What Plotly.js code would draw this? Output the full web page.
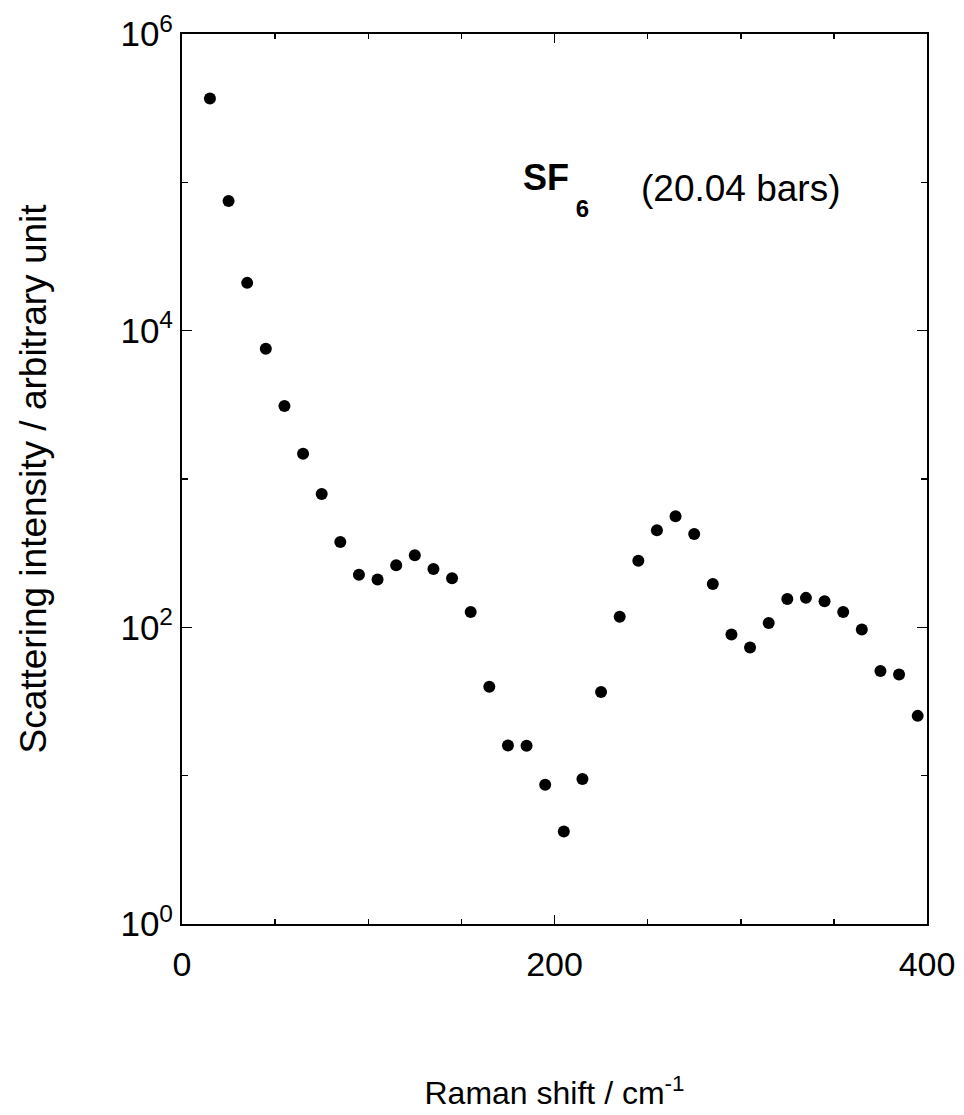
<!DOCTYPE html>
<html>
<head>
<meta charset="utf-8">
<script src="https://cdn.plot.ly/plotly-3.0.1.min.js"></script>
<style>html,body{margin:0;padding:0;background:#fff;}#chart{width:964px;height:1115px;}</style>
</head>
<body>
<div id="chart"></div>
<script>
// Raman shift (cm^-1)
const ramanShift = [15,25,35,45,55,65,75,85,95,105,115,125,135,145,155,165,175,185,195,205,215,225,235,245,255,265,275,285,295,305,315,325,335,345,355,365,375,385,395];
// Scattering intensity (arbitrary unit)
const intensity = [367000,74800,21000,7550,3100,1480,793,376,226,210,262,306,247,214,127,39.7,16.0,15.9,8.7,4.2,9.5,36.6,118,281,451,560,426,196,89.5,73.1,107,155,158,150,127,96.8,50.7,48.1,25.3];

const yTickVals = [1,100,10000,1000000];
const yTickText = ['10<sup>0</sup>','10<sup>2</sup>','10<sup>4</sup>','10<sup>6</sup>'];
const yMinorVals = [10,1000,100000];
const xTickVals = [0,200,400];
const xTickText = ['0','200','400'];

const FONT = 'Arial, "Liberation Sans", Helvetica, sans-serif';

const trace = {
  x: ramanShift, y: intensity, type: 'scatter', mode: 'markers',
  marker: {color: '#000', size: 12},
  hoverinfo: 'x+y', showlegend: false
};

const layout = {
  width: 964, height: 1115,
  margin: {l: 182, r: 36.5, t: 34, b: 191},
  paper_bgcolor: '#fff', plot_bgcolor: '#fff',
  font: {family: FONT, color: '#000', size: 34},
  showlegend: false,
  xaxis: {
    range: [0, 400], tickmode: 'array', tickvals: xTickVals, ticktext: xTickText,
    ticks: 'inside', ticklen: 9, tickwidth: 1.5, tickcolor: '#000',
    showline: true, linewidth: 2, linecolor: '#000', mirror: 'ticks',
    showgrid: false, zeroline: false,
    ticklabelstandoff: 9,
    tickfont: {size: 34, family: FONT},
    minor: {dtick: 50, tick0: 0, ticks: 'inside', ticklen: 5, tickwidth: 1.5, tickcolor: '#000', showgrid: false},
    title: {text: 'Raman shift / cm<sup>-1</sup>', font: {size: 32, family: FONT}, standoff: 100}
  },
  yaxis: {
    type: 'log', range: [0, 6], tickmode: 'array', tickvals: yTickVals, ticktext: yTickText,
    ticks: 'inside', ticklen: 10, tickwidth: 1.5, tickcolor: '#000',
    showline: true, linewidth: 2, linecolor: '#000', mirror: 'ticks',
    showgrid: false, zeroline: false,
    ticklabelstandoff: 0,
    tickfont: {size: 35, family: FONT},
    minor: {tickmode: 'array', tickvals: yMinorVals, ticks: 'inside', ticklen: 6, tickwidth: 1.5, tickcolor: '#000', showgrid: false},
    title: {text: 'Scattering intensity / arbitrary unit', font: {size: 37, family: FONT}, standoff: 62}
  },
  annotations: [
    {xref: 'paper', yref: 'paper', x: 0.455, y: 0.825, xanchor: 'left', yanchor: 'middle',
     text: '<b>SF<span style="font-size:24px;baseline-shift:-27px"> 6</span></b>', showarrow: false, font: {size: 36, family: FONT, color: '#000'}},
    {xref: 'paper', yref: 'paper', x: 0.614, y: 0.826, xanchor: 'left', yanchor: 'middle',
     text: '(20.04 bars)', showarrow: false, font: {size: 37, family: FONT, color: '#000'}}
  ]
};

Plotly.newPlot('chart', [trace], layout, {displayModeBar: false, staticPlot: true});
</script>
</body>
</html>
